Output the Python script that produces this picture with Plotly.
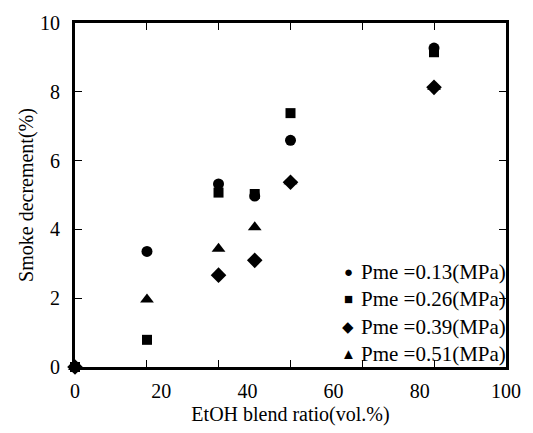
import plotly.graph_objects as go

# Data (x in the labelled axis units)
blend = [0, 16.7, 33.3, 41.7, 50, 83.3]
pme013 = [0, 3.36, 5.32, 4.97, 6.59, 9.27]
pme026 = [0, 0.79, 5.07, 5.03, 7.38, 9.15]
pme039 = [0, None, 2.67, 3.10, 5.37, 8.13]
pme051 = [0, 1.96, 3.44, 4.06, 5.40, 8.15]

names = ["Pme =0.13(MPa)", "Pme =0.26(MPa)", "Pme =0.39(MPa)", "Pme =0.51(MPa)"]
series = [pme013, pme026, pme039, pme051]
symbols = ["circle", "square", "diamond", "triangle-up"]
legend_glyphs = ["●", "■", "◆", "▲"]
sizes = [11, 10, 12, 12]

x_labels = [0, 20, 40, 60, 80, 100]
x_minor = [100 / 6 * k for k in range(7)]
y_ticks = [0, 2, 4, 6, 8, 10]

FONT = "Liberation Serif"
FS = 20
LFS = 21

fig = go.Figure()
for nm, ys, sym, sz in zip(names, series, symbols, sizes):
    fig.add_trace(go.Scatter(
        x=blend, y=ys, mode="markers", name=nm, showlegend=False,
        marker=dict(symbol=sym, size=sz, color="black", line=dict(width=0)),
        cliponaxis=False,
    ))

# Legend drawn as two aligned text blocks: glyph column and label column
glyph_text = "<br>".join(f"<span style='font-size:15px'>{g}</span>" for g in legend_glyphs)
label_text = "<br>".join(names)
fig.add_annotation(
    xref="paper", yref="paper", x=0.634, y=0.156, xanchor="center", yanchor="middle",
    text=glyph_text, showarrow=False, align="center",
    font=dict(family=FONT, size=LFS, color="black"),
)
fig.add_annotation(
    xref="paper", yref="paper", x=0.66, y=0.156, xanchor="left", yanchor="middle",
    text=label_text, showarrow=False, align="left",
    font=dict(family=FONT, size=LFS, color="black"),
)

fig.update_layout(
    width=533, height=433,
    margin=dict(l=75, r=13, t=12, b=65),
    paper_bgcolor="white", plot_bgcolor="white",
    font=dict(family=FONT, size=FS, color="black"),
    showlegend=False,
    xaxis=dict(range=[0, 100], tickvals=x_minor, ticktext=[""] * len(x_minor),
               ticks="inside", ticklen=7, tickwidth=1, tickcolor="black",
               showline=True, linewidth=3, linecolor="black", mirror="ticks",
               showgrid=False, zeroline=False, fixedrange=True),
    xaxis2=dict(range=[0, 100], overlaying="x", side="bottom", anchor="y",
                tickvals=x_labels, ticks="", showline=False, showgrid=False,
                zeroline=False, tickfont=dict(family=FONT, size=FS),
                ticklabelstandoff=10,
                title=dict(text="EtOH blend ratio(vol.%)", font=dict(family=FONT, size=FS), standoff=5)),
    yaxis=dict(range=[0, 10], tickvals=y_ticks, ticks="inside", ticklen=7,
               tickwidth=1, tickcolor="black", showline=True, linewidth=3,
               linecolor="black", mirror="ticks", showgrid=False, zeroline=False,
               tickfont=dict(family=FONT, size=FS), ticklabelstandoff=8,
               title=dict(text="Smoke decrement(%)", font=dict(family=FONT, size=FS), standoff=2)),
)
# invisible trace to make xaxis2 render
fig.add_trace(go.Scatter(x=[None], y=[None], xaxis="x2", yaxis="y", showlegend=False, hoverinfo="skip"))

fig.write_html("out.html")
